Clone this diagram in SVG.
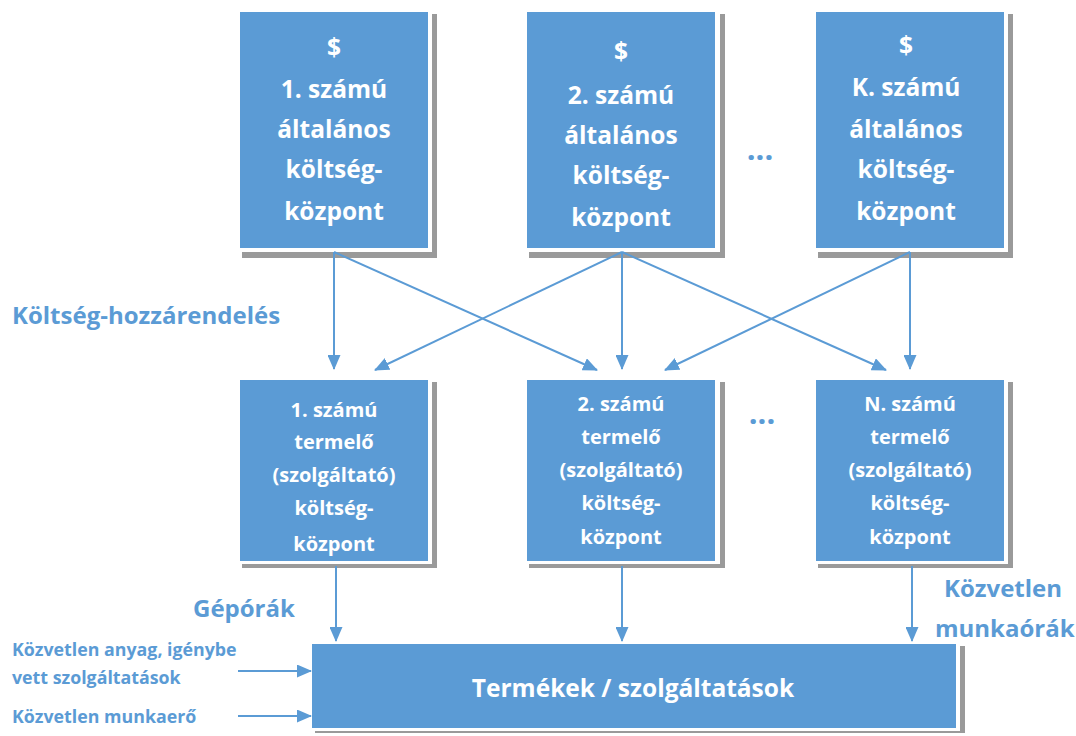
<svg xmlns="http://www.w3.org/2000/svg" width="1076" height="736" viewBox="0 0 1076 736">
<style>
.sh{fill:#9a9a9a}
.gap{fill:#ffffff}
.bx{fill:#5b9bd5}
.t{font-family:"Open Sans","Liberation Sans",sans-serif;font-weight:bold;fill:#ffffff;text-anchor:middle}
.tt{font-size:24.5px}
.tm{font-size:20px}
.lb{font-family:"Open Sans","Liberation Sans",sans-serif;font-weight:bold;fill:#5b9bd5}
.big{font-size:24px}
.sm{font-size:17.8px}
.ln{stroke:#5b9bd5;stroke-width:2;fill:none}
</style>
<defs>
<marker id="ah" markerUnits="userSpaceOnUse" markerWidth="15" markerHeight="13" refX="14" refY="6.5" orient="auto">
<path d="M0,0 L15,6.5 L0,13 Z" fill="#5b9bd5"/>
</marker>
<clipPath id="c1"><rect x="240" y="380" width="188" height="181"/></clipPath>
</defs>

<g id="top1">
<rect class="sh" x="242" y="14" width="195" height="244"/>
<rect class="gap" x="238" y="10" width="194" height="242"/>
<rect class="bx" x="240" y="12" width="188" height="236"/>
<text class="t tt" x="334" y="56">$</text>
<text class="t tt" x="334" y="98">1. számú</text>
<text class="t tt" x="334" y="138">általános</text>
<text class="t tt" x="334" y="178">költség-</text>
<text class="t tt" x="334" y="220">központ</text>
</g>
<g id="top2">
<rect class="sh" x="529" y="14" width="196" height="244"/>
<rect class="gap" x="525" y="10" width="195" height="242"/>
<rect class="bx" x="527" y="12" width="188" height="236"/>
<text class="t tt" x="621" y="60">$</text>
<text class="t tt" x="621" y="104">2. számú</text>
<text class="t tt" x="621" y="144">általános</text>
<text class="t tt" x="621" y="184">költség-</text>
<text class="t tt" x="621" y="226">központ</text>
</g>
<g id="top3">
<rect class="sh" x="818" y="14" width="195" height="244"/>
<rect class="gap" x="814" y="10" width="194" height="242"/>
<rect class="bx" x="816" y="12" width="188" height="236"/>
<text class="t tt" x="906" y="54">$</text>
<text class="t tt" x="906" y="96">K. számú</text>
<text class="t tt" x="906" y="138">általános</text>
<text class="t tt" x="906" y="178">költség-</text>
<text class="t tt" x="906" y="220">központ</text>
</g>
<g id="dots-top"><text class="lb" x="760" y="160" font-size="31" text-anchor="middle">...</text></g>

<g id="mid1">
<rect class="sh" x="242" y="382" width="195" height="186"/>
<rect class="gap" x="238" y="378" width="194" height="186"/>
<rect class="bx" x="240" y="380" width="188" height="181"/>
<g clip-path="url(#c1)">
<text class="t tm" x="334" y="417">1. számú</text>
<text class="t tm" x="334" y="449">termelő</text>
<text class="t tm" x="334" y="482">(szolgáltató)</text>
<text class="t tm" x="334" y="515">költség-</text>
<text class="t tm" x="334" y="551">központ</text>
</g>
</g>
<g id="mid2">
<rect class="sh" x="529" y="382" width="196" height="186"/>
<rect class="gap" x="525" y="378" width="195" height="186"/>
<rect class="bx" x="527" y="380" width="188" height="181"/>
<text class="t tm" x="621" y="411">2. számú</text>
<text class="t tm" x="621" y="444">termelő</text>
<text class="t tm" x="621" y="477">(szolgáltató)</text>
<text class="t tm" x="621" y="510">költség-</text>
<text class="t tm" x="621" y="544">központ</text>
</g>
<g id="mid3">
<rect class="sh" x="818" y="382" width="195" height="186"/>
<rect class="gap" x="814" y="378" width="194" height="186"/>
<rect class="bx" x="816" y="380" width="188" height="181"/>
<text class="t tm" x="910" y="411">N. számú</text>
<text class="t tm" x="910" y="444">termelő</text>
<text class="t tm" x="910" y="477">(szolgáltató)</text>
<text class="t tm" x="910" y="510">költség-</text>
<text class="t tm" x="910" y="544">központ</text>
</g>
<g id="dots-mid"><text class="lb" x="762" y="424" font-size="31" text-anchor="middle">...</text></g>

<g id="bottom">
<rect class="sh" x="315" y="646" width="650" height="87"/>
<rect class="gap" x="310" y="641" width="650" height="90"/>
<rect class="bx" x="312" y="644" width="644" height="84"/>
<text class="t" x="633" y="697" font-size="24.5">Termékek / szolgáltatások</text>
</g>

<g id="labels">
<text class="lb big" x="12" y="324">Költség-hozzárendelés</text>
<text class="lb big" x="193" y="617">Gépórák</text>
<text class="lb big" x="944" y="597">Közvetlen</text>
<text class="lb big" x="935" y="637">munkaórák</text>
<text class="lb sm" x="12" y="656">Közvetlen anyag, igénybe</text>
<text class="lb sm" x="12" y="684">vett szolgáltatások</text>
<text class="lb sm" x="12" y="723">Közvetlen munkaerő</text>
</g>

<g id="connectors">
<line class="ln" x1="334" y1="252" x2="334" y2="369" marker-end="url(#ah)"/>
<line class="ln" x1="334" y1="252" x2="597" y2="370" marker-end="url(#ah)"/>
<line class="ln" x1="622" y1="252" x2="375" y2="370" marker-end="url(#ah)"/>
<line class="ln" x1="622" y1="252" x2="622" y2="369" marker-end="url(#ah)"/>
<line class="ln" x1="622" y1="252" x2="886" y2="370" marker-end="url(#ah)"/>
<line class="ln" x1="910" y1="252" x2="665" y2="370" marker-end="url(#ah)"/>
<line class="ln" x1="910" y1="252" x2="910" y2="369" marker-end="url(#ah)"/>
<line class="ln" x1="336" y1="566" x2="336" y2="641" marker-end="url(#ah)"/>
<line class="ln" x1="622" y1="566" x2="622" y2="641" marker-end="url(#ah)"/>
<line class="ln" x1="912" y1="566" x2="912" y2="641" marker-end="url(#ah)"/>
<line class="ln" x1="238" y1="671" x2="311" y2="671" marker-end="url(#ah)"/>
<line class="ln" x1="238" y1="716" x2="311" y2="716" marker-end="url(#ah)"/>
</g>
</svg>
